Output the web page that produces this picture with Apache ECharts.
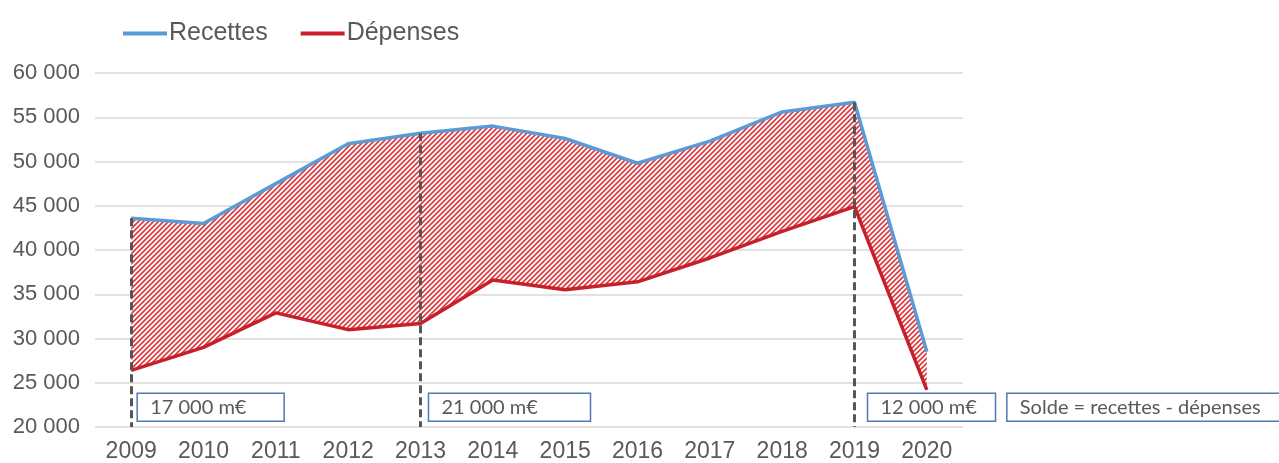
<!DOCTYPE html>
<html>
<head>
<meta charset="utf-8">
<script src="https://cdn.jsdelivr.net/npm/echarts@6/dist/echarts.min.js"></script>
<style>
html,body{margin:0;padding:0;background:#fff;}
#chart{width:1279px;height:463px;}
</style>
</head>
<body>
<div id="chart"></div>
<script>
const years = ['2009','2010','2011','2012','2013','2014','2015','2016','2017','2018','2019','2020'];
const recettes = [43600, 43000, 47500, 52000, 53200, 54000, 52600, 49800, 52300, 55600, 56700, 28500];
const depenses = [26400, 29000, 32900, 31000, 31700, 36600, 35500, 36400, 39100, 42100, 44900, 24200];
const yTicks = [20000, 25000, 30000, 35000, 40000, 45000, 50000, 55000, 60000];
const markedYears = ['2009', '2013', '2019'];
const soldeLabels = ['17 000 m€', '21 000 m€', '12 000 m€'];
const noteLabel = 'Solde = recettes - dépenses';

const solde = recettes.map((r, i) => r - depenses[i]);

// hatch pattern
function makeHatch() {
  const s = 5;
  const c = document.createElement('canvas');
  c.width = s; c.height = s;
  const g = c.getContext('2d');
  g.fillStyle = '#ffffff';
  g.fillRect(0, 0, s, s);
  g.strokeStyle = '#dd3c42';
  g.lineWidth = 1.7;
  g.beginPath();
  g.moveTo(0, s); g.lineTo(s, 0);
  g.moveTo(-1, 1); g.lineTo(1, -1);
  g.moveTo(s - 1, s + 1); g.lineTo(s + 1, s - 1);
  g.stroke();
  return c;
}

const fmt = v => String(v).replace(/\B(?=(\d{3})+(?!\d))/g, ' ');
const chart = echarts.init(document.getElementById('chart'));
const textColor = '#595959';
const fontFam = '"Liberation Sans", Arial, sans-serif';

const markData = markedYears.map(y => {
  const i = years.indexOf(y);
  return [{ coord: [y, recettes[i]] }, { coord: [y, yTicks[0]] }];
});

chart.setOption({
  animation: false,
  legend: {
    data: ['Recettes', 'Dépenses'],
    left: 118,
    top: 16,
    icon: 'rect',
    itemWidth: 44,
    itemHeight: 4,
    itemGap: 33,
    textStyle: { color: textColor, fontSize: 25, fontFamily: fontFam, padding: [0, 0, 0, -3] }
  },
  grid: { left: 95, right: 316, top: 73, bottom: 36, containLabel: false },
  xAxis: {
    type: 'category',
    data: years,
    boundaryGap: true,
    axisLine: { show: false },
    axisTick: { show: false },
    axisLabel: { color: textColor, fontSize: 23, fontFamily: fontFam, margin: 13 }
  },
  yAxis: {
    type: 'value',
    min: yTicks[0],
    max: yTicks[yTicks.length - 1],
    interval: 5000,
    axisLine: { show: false },
    axisTick: { show: false },
    splitLine: { lineStyle: { color: '#d9d9d9', width: 1.5 } },
    axisLabel: { color: textColor, fontSize: 22, fontFamily: fontFam, margin: 15, formatter: fmt }
  },
  series: [
    {
      name: 'base', type: 'line', stack: 'band', data: depenses,
      symbol: 'none', lineStyle: { opacity: 0 }, areaStyle: { opacity: 0 }, silent: true, z: 1
    },
    {
      name: 'solde', type: 'line', stack: 'band', data: solde,
      symbol: 'none', lineStyle: { opacity: 0 },
      areaStyle: { color: { image: makeHatch(), repeat: 'repeat' }, opacity: 1 }, silent: true, z: 1
    },
    {
      name: 'Recettes', type: 'line', data: recettes, symbol: 'none',
      lineStyle: { color: '#5b9bd5', width: 3.5 }, itemStyle: { color: '#5b9bd5' }, z: 3,
      markLine: {
        silent: true, symbol: 'none', label: { show: false },
        lineStyle: { color: '#555555', width: 3, type: [8, 4] },
        data: markData
      }
    },
    {
      name: 'Dépenses', type: 'line', data: depenses, symbol: 'none',
      lineStyle: { color: '#c8202a', width: 3.5 }, itemStyle: { color: '#c8202a' }, z: 3
    }
  ]
});

// annotation boxes anchored to axis positions
function box(x, y, w, h, text) {
  return {
    type: 'group', x: x, y: y, children: [
      { type: 'rect', shape: { x: 0, y: 0, width: w, height: h },
        style: { fill: '#fff', stroke: '#4f7ab3', lineWidth: 1.5 } },
      { type: 'text', x: 13, y: h / 2,
        style: { text: text, fill: textColor, font: '20px Lato, "Open Sans", sans-serif', verticalAlign: 'middle' } }
    ]
  };
}
const yTop = chart.convertToPixel({ yAxisIndex: 0 }, 22000) - 16;
const widths = [147, 162, 128];
const offsets = [6, 8, 13];
const elems = markedYears.map((y, k) => {
  const px = chart.convertToPixel({ xAxisIndex: 0 }, y);
  return box(px + offsets[k], yTop, widths[k], 28, soldeLabels[k]);
});
const lastPx = chart.convertToPixel({ xAxisIndex: 0 }, years[years.length - 1]);
elems.push(box(lastPx + 80, yTop, 290, 28, noteLabel));
chart.setOption({ graphic: elems });
</script>
</body>
</html>
